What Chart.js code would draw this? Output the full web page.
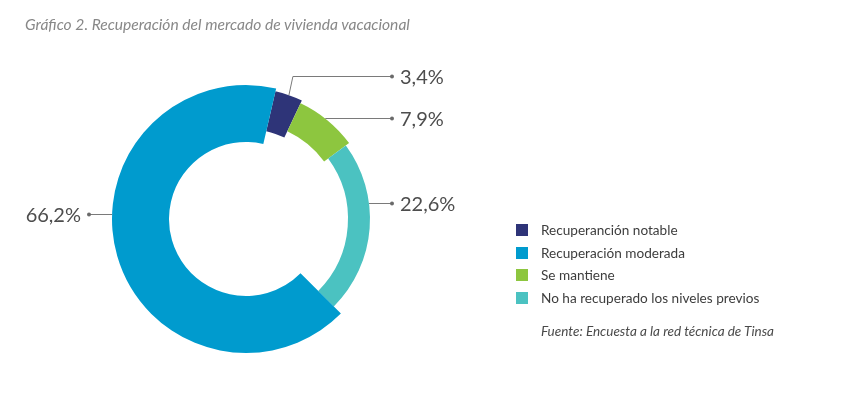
<!DOCTYPE html>
<html lang="es">
<head>
<meta charset="utf-8">
<title>Recuperación del mercado de vivienda vacacional</title>
<script src="https://cdn.jsdelivr.net/npm/chart.js@4.4.1/dist/chart.umd.min.js"></script>
<style>
    html, body {
        margin: 0;
        padding: 0;
        background: #ffffff;
    }
    body {
        width: 850px;
        height: 397px;
        position: relative;
        overflow: hidden;
        font-family: Lato, 'Open Sans', sans-serif;
    }
    #chart-box {
        position: absolute;
        left: 0;
        top: 0;
        width: 850px;
        height: 397px;
    }
    #title {
        position: absolute;
        left: 25px;
        top: 15px;
        font-size: 15.6px;
        font-style: italic;
        color: #888888;
        white-space: nowrap;
    }
    #legend {
        position: absolute;
        left: 516px;
        top: 219px;
        margin: 0;
        padding: 0;
        list-style: none;
    }
    #legend li {
        height: 22.5px;
        display: flex;
        align-items: center;
        font-size: 13.6px;
        color: #3d3d3d;
        white-space: nowrap;
    }
    #legend .swatch {
        width: 12px;
        height: 12px;
        margin-right: 13px;
        flex: none;
    }
    #source {
        position: absolute;
        left: 541px;
        top: 323px;
        font-size: 13.5px;
        font-style: italic;
        color: #4a4a4a;
        white-space: nowrap;
    }
</style>
</head>
<body>
<div id="chart-box"><canvas id="donut"></canvas></div>
<div id="title">Gráfico 2. Recuperación del mercado de vivienda vacacional</div>
<ul id="legend"></ul>
<div id="source">Fuente: Encuesta a la red técnica de Tinsa</div>

<script>
// legend order
const categories = [
    'Recuperanción notable',
    'Recuperación moderada',
    'Se mantiene',
    'No ha recuperado los niveles previos'
];
const shares = [3.4, 66.2, 7.9, 22.6];

// clockwise order round the ring, starting near the top
const drawOrder = [0, 2, 3, 1];

const colors = ['#2e3478', '#009bce', '#8dc63f', '#4bc2c1'];
// inner / outer radius of each ring piece, in px at full size (134)
const ringRadii = [[90, 131], [77, 134], [97, 128], [102, 124]];
// height of each value label
const labelY = [76, 214, 118, 203];

const fullRadius = 134;

function formatShare(v) {
    return v.toFixed(1).replace('.', ',') + '%';
}

const ringPlugin = {
    id: 'ringPieces',
    beforeDatasetsDraw(chart) {
        const meta = chart.getDatasetMeta(0);
        const R = meta.controller.outerRadius;
        meta.data.forEach((arc, i) => {
            const cat = drawOrder[i];
            arc.innerRadius = R * ringRadii[cat][0] / fullRadius;
            arc.outerRadius = R * ringRadii[cat][1] / fullRadius;
        });
    }
};

const labelPlugin = {
    id: 'valueLabels',
    afterDatasetsDraw(chart) {
        const ctx = chart.ctx;
        const meta = chart.getDatasetMeta(0);
        ctx.save();
        ctx.strokeStyle = '#7a7a7a';
        ctx.fillStyle = '#6a6a6a';
        ctx.lineWidth = 1;
        meta.data.forEach((arc, i) => {
            const cat = drawOrder[i];
            const cx = arc.x, cy = arc.y, r = arc.outerRadius;
            const mid = (arc.startAngle + arc.endAngle) / 2;
            const right = Math.cos(mid) >= 0;
            const ly = labelY[cat] + 0.5;
            const dotX = right ? 392 : 89;
            const pts = [];
            const dy = ly - cy;
            if (Math.abs(dy) < r) {
                const dx = Math.sqrt(r * r - dy * dy);
                pts.push([right ? cx + dx : cx - dx, ly]);
            } else {
                const px = cx + r * Math.cos(mid);
                const py = cy + r * Math.sin(mid);
                pts.push([px, py]);
                pts.push([px + (right ? 4 : -4), ly]);
            }
            pts.push([dotX, ly]);

            ctx.beginPath();
            ctx.moveTo(pts[0][0], pts[0][1]);
            for (let k = 1; k < pts.length; k++) ctx.lineTo(pts[k][0], pts[k][1]);
            ctx.stroke();

            ctx.beginPath();
            ctx.arc(dotX, ly, 2, 0, Math.PI * 2);
            ctx.fill();

            ctx.save();
            ctx.fillStyle = '#4d4d4d';
            ctx.font = '20px Lato, "Open Sans", sans-serif';
            ctx.textBaseline = 'middle';
            ctx.textAlign = right ? 'left' : 'right';
            ctx.fillText(formatShare(shares[cat]), right ? 400 : 81, ly + 1);
            ctx.restore();
        });
        ctx.restore();
    }
};

function buildLegend() {
    const list = document.getElementById('legend');
    categories.forEach((name, i) => {
        const li = document.createElement('li');
        li.innerHTML = `<span class="swatch" style="background:${colors[i]}"></span><span>${name}</span>`;
        list.appendChild(li);
    });
}

function renderChart() {
    const ctx = document.getElementById('donut').getContext('2d');
    new Chart(ctx, {
        type: 'doughnut',
        data: {
            labels: drawOrder.map(i => categories[i]),
            datasets: [{
                data: drawOrder.map(i => shares[i]),
                backgroundColor: drawOrder.map(i => colors[i]),
                borderWidth: 0
            }]
        },
        options: {
            responsive: true,
            maintainAspectRatio: false,
            animation: false,
            events: [],
            rotation: 13,
            cutout: '50%',
            layout: {
                padding: { left: 112, top: 85, right: 470, bottom: 44 }
            },
            plugins: {
                legend: { display: false },
                tooltip: { enabled: false }
            }
        },
        plugins: [ringPlugin, labelPlugin]
    });
}

document.addEventListener('DOMContentLoaded', () => {
    buildLegend();
    renderChart();
});
</script>
</body>
</html>
